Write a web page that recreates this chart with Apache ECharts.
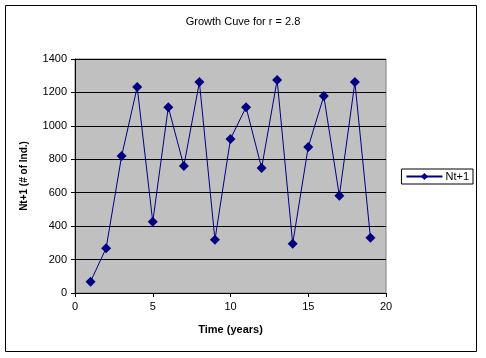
<!DOCTYPE html>
<html><head><meta charset="utf-8">
<script src="https://cdn.jsdelivr.net/npm/echarts@6/dist/echarts.min.js"></script>
<style>html,body{margin:0;padding:0;background:#fff}#c{width:486px;height:358px}</style>
</head><body><div id="c"></div>
<script>
var years = [1,2,3,4,5,6,7,8,9,10,11,12,13,14,15,16,17,18,19];
var nt1 = [68,268,820,1232,426,1112,760,1262,318,922,1112,748,1274,295,874,1178,582,1262,330];
var xTicks = [0,5,10,15,20];
var yTicks = [0,200,400,600,800,1000,1200,1400];
var seriesName = 'Nt+1';
var font = 'Liberation Sans, Arial, sans-serif';
var chart = echarts.init(document.getElementById('c'));
chart.setOption({
  animation:false,
  backgroundColor:'#fff',
  title:{text:'Growth Cuve for r = 2.8',left:'center',top:11,itemGap:0,
    textStyle:{fontFamily:font,fontSize:11,fontWeight:'normal',color:'#000'}},
  graphic:[{type:'rect',shape:{x:5.5,y:5.5,width:471,height:346},style:{fill:null,stroke:'#000',lineWidth:1},z:-1}],
  legend:{right:13,top:169,orient:'vertical',padding:[2,4,2,4],borderColor:'#000',borderWidth:1,
    itemWidth:36,itemHeight:9,itemGap:4,
    textStyle:{fontFamily:font,fontSize:11,color:'#000',padding:[0,0,0,-2]},
    data:[seriesName]},
  grid:{left:75,top:59,width:311,height:234,show:true,backgroundColor:'#c0c0c0',borderColor:'#808080',borderWidth:1},
  xAxis:{type:'value',min:xTicks[0],max:xTicks[xTicks.length-1],interval:5,
    name:'Time (years)',nameLocation:'middle',nameGap:31,
    nameTextStyle:{fontFamily:font,fontSize:11,fontWeight:'bold',color:'#000'},
    axisLine:{lineStyle:{color:'#000'}},axisTick:{length:4,lineStyle:{color:'#000'}},
    axisLabel:{fontFamily:font,fontSize:11,color:'#000',margin:8},
    splitLine:{show:false}},
  yAxis:{type:'value',min:yTicks[0],max:yTicks[yTicks.length-1],interval:200,
    name:'Nt+1 (# of Ind.)',nameLocation:'middle',nameGap:46,nameRotate:90,
    nameTextStyle:{fontFamily:font,fontSize:10,fontWeight:'bold',color:'#000'},
    axisLine:{show:true,lineStyle:{color:'#000'}},axisTick:{show:true,length:4,lineStyle:{color:'#000'}},
    axisLabel:{fontFamily:font,fontSize:11,color:'#000',margin:8,formatter:function(v){return String(v);}},
    splitLine:{show:true,lineStyle:{color:'#000',width:1}}},
  series:[{name:seriesName,type:'line',data:years.map(function(x,i){return [x,nt1[i]];}),
    symbol:'diamond',symbolSize:10,
    lineStyle:{color:'#000080',width:1},itemStyle:{color:'#000080',borderWidth:0}}]
});
</script></body></html>
